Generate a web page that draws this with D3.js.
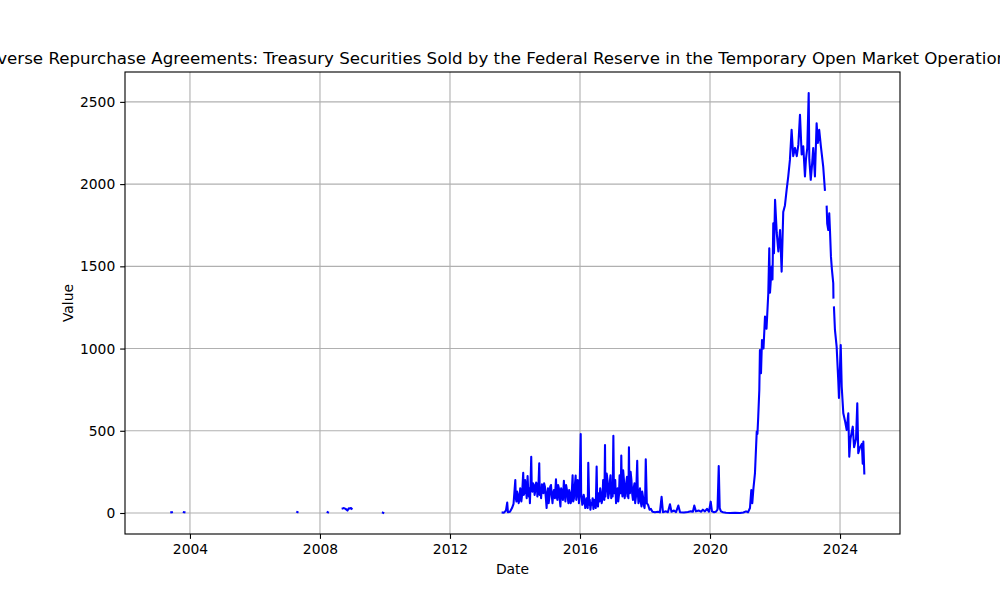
<!DOCTYPE html>
<html>
<head>
<meta charset="utf-8">
<script src="https://cdn.jsdelivr.net/npm/d3@7"></script>
<style>
  html, body { margin: 0; padding: 0; background: #fff; }
  svg { display: block; font-family: "DejaVu Sans", sans-serif; }
</style>
</head>
<body>
<svg id="chart" width="1000" height="600"></svg>
<script>
const title = "Reverse Repurchase Agreements: Treasury Securities Sold by the Federal Reserve in the Temporary Open Market Operations";
const xLabel = "Date";
const yLabel = "Value";
const xDomainDates = ["2002-01-01", "2025-11-05"];
const yTicks = [0, 500, 1000, 1500, 2000, 2500];

const dates = [
  // 2003-2009 (isolated readings)
  "2003-06-05","2003-06-12","2003-06-13",
  "2003-10-24","2003-10-31","2003-11-01",
  "2007-04-20","2007-04-24","2007-04-25",
  "2008-03-27","2008-03-31","2008-04-01",
  "2008-09-12","2008-09-26","2008-10-15","2008-11-05","2008-11-20","2008-12-03","2008-12-15","2008-12-22","2008-12-23",
  "2009-12-08","2009-12-12","2009-12-13",
  // 2013
  "2013-08-15","2013-08-30","2013-09-21","2013-10-05","2013-10-13","2013-11-05","2013-11-28","2013-12-15",
  // 2014
  "2014-01-04","2014-01-10","2014-01-17","2014-01-25","2014-02-03","2014-02-11","2014-02-20","2014-02-28","2014-03-08","2014-03-13",
  "2014-03-19","2014-03-26","2014-04-03","2014-04-09","2014-04-16","2014-04-24","2014-05-03","2014-05-12","2014-05-22","2014-05-29",
  "2014-06-06","2014-06-11","2014-06-17","2014-06-24","2014-07-02","2014-07-08","2014-07-15","2014-07-23","2014-08-01","2014-08-09",
  "2014-08-18","2014-08-26","2014-09-04","2014-09-09","2014-09-15","2014-09-22","2014-09-30","2014-10-06","2014-10-13","2014-10-21",
  "2014-10-30","2014-11-07","2014-11-16","2014-11-24","2014-12-03","2014-12-12","2014-12-22","2014-12-29",
  // 2015
  "2015-01-06","2015-01-14","2015-01-23","2015-01-31","2015-02-09","2015-02-17","2015-02-26","2015-03-06","2015-03-14","2015-03-25",
  "2015-04-06","2015-04-14","2015-04-22","2015-04-30","2015-05-09","2015-05-17","2015-05-26","2015-06-03","2015-06-12","2015-06-23",
  "2015-07-04","2015-07-12","2015-07-21","2015-07-29","2015-08-07","2015-08-15","2015-08-24","2015-09-01","2015-09-10","2015-09-18",
  "2015-09-27","2015-10-03","2015-10-10","2015-10-17","2015-10-25","2015-11-03","2015-11-13","2015-11-20","2015-11-28","2015-12-06",
  "2015-12-15","2015-12-20","2015-12-26",
  // 2016
  "2016-01-09","2016-01-14","2016-01-20","2016-01-27","2016-02-04","2016-02-12","2016-02-21","2016-02-29","2016-03-08","2016-03-15",
  "2016-03-23","2016-03-28","2016-04-03","2016-04-14","2016-04-20","2016-04-27","2016-05-05","2016-05-14","2016-05-22","2016-05-31",
  "2016-06-08","2016-06-17","2016-06-26","2016-07-06","2016-07-13","2016-07-21","2016-07-29","2016-08-07","2016-08-15","2016-08-24",
  "2016-09-01","2016-09-10","2016-09-17","2016-09-25","2016-10-01","2016-10-08","2016-10-13","2016-10-19","2016-10-27","2016-11-05",
  "2016-11-13","2016-11-22","2016-11-30","2016-12-09","2016-12-17","2016-12-26",
  // 2017
  "2017-01-02","2017-01-10","2017-01-16","2017-01-23","2017-01-31","2017-02-09","2017-02-17","2017-02-26","2017-03-06","2017-03-14",
  "2017-03-21","2017-03-29","2017-04-03","2017-04-09","2017-04-15","2017-04-22","2017-04-30","2017-05-09","2017-05-17","2017-05-26",
  "2017-06-03","2017-06-12","2017-06-17","2017-06-23","2017-06-28","2017-07-04","2017-07-09","2017-07-15","2017-07-23","2017-08-01",
  "2017-08-09","2017-08-18","2017-08-26","2017-09-04","2017-09-12","2017-09-21","2017-09-28","2017-10-05","2017-10-12","2017-10-19",
  "2017-10-27","2017-11-05","2017-11-13","2017-11-22","2017-11-30","2017-12-09","2017-12-17","2017-12-26",
  // 2018
  "2018-01-02","2018-01-09","2018-01-21","2018-02-04","2018-02-21","2018-03-08","2018-03-25","2018-04-22","2018-05-26","2018-06-17",
  "2018-07-06","2018-07-21","2018-08-24","2018-09-15","2018-10-08","2018-10-25","2018-11-22","2018-12-15",
  // 2019
  "2019-01-10","2019-01-29","2019-03-14","2019-04-27","2019-05-31","2019-06-23","2019-07-08","2019-07-27","2019-08-30","2019-09-21",
  "2019-10-13","2019-11-05","2019-11-28","2019-12-20",
  // 2020
  "2020-01-09","2020-01-23","2020-02-15","2020-03-08","2020-03-25","2020-04-08","2020-04-19","2020-05-03","2020-05-26","2020-06-29",
  "2020-08-13","2020-10-08","2020-12-03",
  // 2021
  "2021-01-10","2021-02-09","2021-03-03","2021-03-25","2021-04-09","2021-04-20","2021-05-03","2021-05-20","2021-06-09","2021-06-17",
  "2021-06-26","2021-07-08","2021-07-15","2021-07-27","2021-08-07","2021-08-24","2021-09-10","2021-09-27","2021-10-17","2021-10-28",
  "2021-11-05","2021-11-24","2021-12-03","2021-12-12","2021-12-20",
  // 2022
  "2022-01-01","2022-01-20","2022-02-07","2022-02-26","2022-03-16","2022-04-03","2022-04-22","2022-05-11","2022-05-29","2022-06-17",
  "2022-07-06","2022-07-24","2022-08-13","2022-09-02","2022-09-20","2022-10-08","2022-10-27","2022-11-14","2022-12-03","2022-12-14",
  "2022-12-29",
  // 2023
  "2023-01-14","2023-01-21","2023-02-06","2023-02-21","2023-03-06","2023-03-25","2023-04-13","2023-04-27","2023-05-12","2023-05-31",
  "2023-06-26","2023-07-15","2023-07-22","2023-08-04","2023-08-10","2023-08-22","2023-09-02","2023-09-10","2023-09-21","2023-10-02",
  "2023-10-17","2023-10-19","2023-10-22","2023-10-25","2023-11-05","2023-11-24","2023-12-12","2023-12-20",
  // 2024
  "2024-01-09","2024-01-20","2024-02-07","2024-02-26","2024-03-16","2024-04-03","2024-04-14","2024-04-27","2024-05-23","2024-06-07",
  "2024-06-29","2024-07-13","2024-07-24","2024-08-13","2024-09-02","2024-09-12","2024-09-19","2024-09-30"
];

const values = [
  // 2003-2009
  4, 5, null,
  5, 4, null,
  6, 5, null,
  5, 4, null,
  28, 30, 25, 15, 28, 27, 30, 26, null,
  2, 1, null,
  // 2013
  3, 2, 15, 63, 5, 8, 30, 55,
  // 2014
  200, 90, 70, 130, 110, 60, 85, 150, 130, 70,
  100, 160, 245, 110, 120, 200, 160, 90, 225, 140,
  100, 150, 60, 170, 342, 150, 130, 180, 170, 110,
  140, 185, 175, 100, 120, 180, 302, 110, 150, 90,
  175, 140, 120, 180, 160, 100, 30, 120,
  // 2015
  150, 60, 100, 160, 170, 110, 60, 120, 140, 90,
  205, 100, 80, 170, 150, 90, 40, 150, 130, 80,
  196, 120, 70, 170, 140, 100, 60, 140, 120, 60,
  80, 150, 230, 70, 90, 160, 228, 80, 110, 200,
  150, 60, 100,
  // 2016
  480, 120, 90, 50, 60, 110, 80, 30, 40, 90,
  70, 30, 306, 50, 80, 20, 60, 50, 90, 25,
  80, 60, 30, 282, 60, 40, 120, 70, 150, 110,
  60, 90, 200, 170, 80, 414, 100, 140, 240, 200,
  90, 120, 180, 230, 90, 150,
  // 2017
  100, 470, 150, 120, 200, 60, 100, 150, 70, 110,
  230, 180, 120, 349, 160, 100, 260, 200, 90, 130,
  180, 220, 100, 150, 90, 400, 180, 120, 250, 200,
  120, 80, 150, 180, 60, 100, 200, 318, 120, 60,
  110, 150, 70, 40, 130, 100, 50, 30,
  // 2018
  80, 327, 60, 50, 20, 25, 8, 5, 8, 4,
  99, 5, 10, 5, 53, 8, 15, 5,
  // 2019
  45, 5, 3, 6, 10, 8, 45, 10, 15, 8,
  20, 10, 25, 8,
  // 2020
  69, 10, 5, 8, 20, 286, 30, 10, 5, 2,
  0, 1, 0,
  // 2021
  3, 10, 5, 30, 140, 60, 150, 241, 495, 480,
  586, 748, 991, 850, 1052, 1000, 1194, 1120, 1336, 1610,
  1340, 1498, 1420, 1762, 1580,
  // 2022
  1904, 1703, 1590, 1720, 1468, 1830, 1870, 1965, 2046, 2147,
  2330, 2170, 2220, 2170, 2240, 2421, 2180, 2230, 2046, 2150,
  2220,
  // 2023
  2554, 2150, 2026, 2120, 2220, 2046, 2370, 2250, 2330, 2230,
  2107, 1965, null, 1863, 1760, 1721, 1823, 1720, 1559, 1480,
  1397, 1310, null, 1250, 1113, 1012, 809, 700,
  // 2024
  1022, 768, 606, 560, 505, 606, 342, 450, 525, 400,
  450, 667, 363, 400, 420, 300, 434, 241
];

if (dates.length !== values.length) console.error("length mismatch", dates.length, values.length);

const parse = d3.utcParse("%Y-%m-%d");
const data = dates.map((d, i) => ({ date: parse(d), value: values[i] }));

const W = 1000, H = 600;
const m = { left: 125, right: 100, top: 72, bottom: 66 };
const iw = W - m.left - m.right, ih = H - m.top - m.bottom;
const pt = 100 / 72;

const svg = d3.select("#chart");
const g = svg.append("g").attr("transform", `translate(${m.left},${m.top})`);

const x = d3.scaleUtc().domain(xDomainDates.map(parse)).range([0, iw]);
const vals = values.filter(v => v != null);
const vmin = d3.min(vals), vmax = d3.max(vals);
const pad = (vmax - vmin) * 0.05;
const y = d3.scaleLinear().domain([vmin - pad, vmax + pad]).range([ih, 0]);

const xTicks = d3.utcYear.every(4).range(parse("2003-01-01"), parse("2025-01-02"));

// grid
g.append("g").selectAll("line").data(xTicks).join("line")
  .attr("x1", d => x(d)).attr("x2", d => x(d)).attr("y1", 0).attr("y2", ih)
  .attr("stroke", "#b0b0b0").attr("stroke-width", 0.8 * pt);
g.append("g").selectAll("line").data(yTicks).join("line")
  .attr("y1", d => y(d)).attr("y2", d => y(d)).attr("x1", 0).attr("x2", iw)
  .attr("stroke", "#b0b0b0").attr("stroke-width", 0.8 * pt);

// line
const line = d3.line()
  .defined(d => d.value != null)
  .x(d => x(d.date)).y(d => y(d.value));

g.append("path").datum(data)
  .attr("d", line)
  .attr("fill", "none")
  .attr("stroke", "#0000ff")
  .attr("stroke-width", 1.5 * pt)
  .attr("stroke-linejoin", "round")
  .attr("stroke-linecap", "square");

// axes
const xAxis = d3.axisBottom(x).tickValues(xTicks).tickFormat(d3.utcFormat("%Y")).tickSize(3.5 * pt).tickPadding(3.5 * pt);
const yAxis = d3.axisLeft(y).tickValues(yTicks).tickFormat(d3.format("d")).tickSize(3.5 * pt).tickPadding(3.5 * pt);

const gx = g.append("g").attr("transform", `translate(0,${ih})`).call(xAxis);
const gy = g.append("g").call(yAxis);
[gx, gy].forEach(a => {
  a.select(".domain").remove();
  a.selectAll(".tick line").attr("stroke", "#000").attr("stroke-width", 0.8 * pt);
  a.selectAll(".tick text").attr("fill", "#000").style("font-size", (10 * pt) + "px").style("font-family", "DejaVu Sans");
});

// spines
g.append("rect").attr("x", 0).attr("y", 0).attr("width", iw).attr("height", ih)
  .attr("fill", "none").attr("stroke", "#000").attr("stroke-width", 0.8 * pt);

// labels
svg.append("text").attr("x", m.left + iw / 2).attr("y", 574)
  .attr("text-anchor", "middle").style("font-size", (10 * pt) + "px").text(xLabel);
svg.append("text").attr("transform", `translate(73,${m.top + ih / 2}) rotate(-90)`)
  .attr("text-anchor", "middle").style("font-size", (10 * pt) + "px").text(yLabel);
svg.append("text").attr("x", 496).attr("y", 63.5)
  .attr("text-anchor", "middle").style("font-size", (12 * pt) + "px").text(title);
</script>
</body>
</html>
